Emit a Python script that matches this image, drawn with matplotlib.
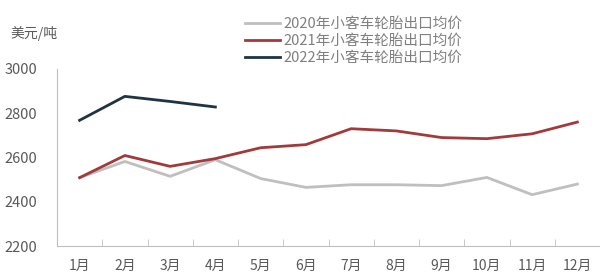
import matplotlib.pyplot as plt
import numpy as np

plt.rcParams['font.family'] = ['Noto Sans CJK SC', 'DejaVu Sans']

# 月份与各年份均价（美元/吨）
months = ['1月', '2月', '3月', '4月', '5月', '6月', '7月', '8月', '9月', '10月', '11月', '12月']
price_2020 = [2509, 2582, 2515, 2590, 2505, 2465, 2477, 2477, 2473, 2510, 2432, 2480]
price_2021 = [2509, 2609, 2560, 2595, 2644, 2658, 2730, 2720, 2690, 2685, 2707, 2760]
price_2022 = [2768, 2876, 2853, 2828]

labels = ['2020年小客车轮胎出口均价', '2021年小客车轮胎出口均价', '2022年小客车轮胎出口均价']
colors = ['#bfbfbf', '#a23a3c', '#1f3344']

fig = plt.figure(figsize=(6, 2.79), dpi=100)
ax = fig.add_axes([0.095, 0.118, 0.905, 0.635])

x = np.arange(len(months))
ax.plot(x, price_2020, color=colors[0], lw=2, label=labels[0])
ax.plot(x, price_2021, color=colors[1], lw=2, label=labels[1])
ax.plot(x[:len(price_2022)], price_2022, color=colors[2], lw=2, label=labels[2])

ax.set_xlim(-0.5, 11.5)
ax.set_ylim(2200, 3000)
ax.set_yticks([2200, 2400, 2600, 2800, 3000])

ax.set_xticks(x)
ax.set_xticklabels(months)
ax.set_xticks(np.arange(0.5, 11.5, 1), minor=True)
ax.tick_params(axis='x', which='major', length=0, pad=9, labelsize=10, colors='#595959')
ax.tick_params(axis='x', which='minor', length=5, direction='in', color='#bfbfbf')
ax.tick_params(axis='y', length=0, pad=14.5, labelsize=10.5, colors='#595959')

for s in ['top', 'right']:
    ax.spines[s].set_visible(False)
for s in ['left', 'bottom']:
    ax.spines[s].set_color('#bfbfbf')

fig.text(0.017, 0.865, '美元/吨', fontsize=10, color='#595959')

ax.legend(loc='upper left', bbox_to_anchor=(245 / 600, 1 - 17 / 279), bbox_transform=fig.transFigure,
          frameon=False, fontsize=10.5, labelcolor='#7f7f7f', handlelength=2.4,
          handletextpad=0.25, labelspacing=0.2, borderaxespad=0, borderpad=0)

fig.savefig('out.png', dpi=100)
